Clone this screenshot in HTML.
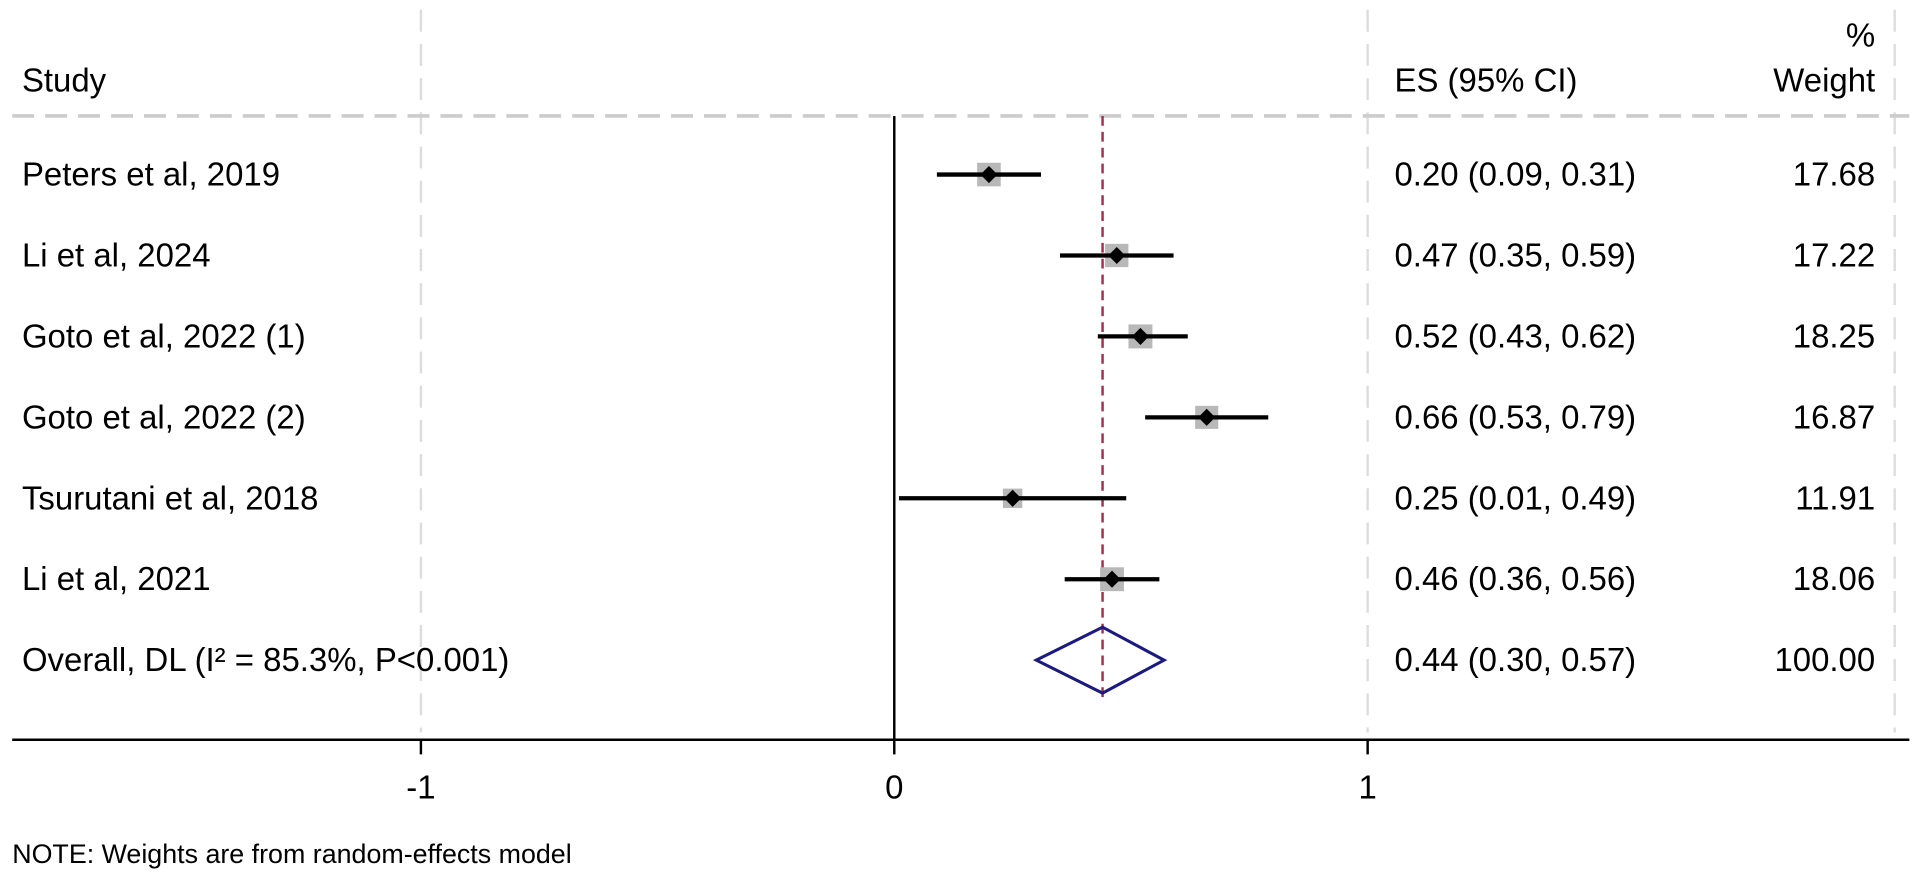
<!DOCTYPE html>
<html><head><meta charset="utf-8"><style>
body{margin:0;background:#fff}
svg{display:block;font-family:"Liberation Sans",Arial,sans-serif}
</style></head><body>
<svg id="chart" width="1913" height="885" viewBox="0 0 1568 725" preserveAspectRatio="none">
<g id="grid"></g>
<text x="18" y="75" font-size="27">Study</text>
<text x="1143" y="75" font-size="27">ES (95% CI)</text>
<text x="1537" y="38" font-size="27" text-anchor="end">%</text>
<text x="1537" y="75" font-size="27" text-anchor="end">Weight</text>
<g id="rows"></g>
<text x="10" y="707" font-size="22">NOTE: Weights are from random-effects model</text>
</svg>
<script>
const studies=["Peters et al, 2019","Li et al, 2024","Goto et al, 2022 (1)","Goto et al, 2022 (2)","Tsurutani et al, 2018","Li et al, 2021"];
const es=[0.20,0.47,0.52,0.66,0.25,0.46];
const lo=[0.09,0.35,0.43,0.53,0.01,0.36];
const hi=[0.31,0.59,0.62,0.79,0.49,0.56];
const weights=[17.68,17.22,18.25,16.87,11.91,18.06];
const overall=[0.44,0.30,0.57];
const overallLabel="Overall, DL (I² = 85.3%, P<0.001)";
const ticks=[-1,0,1];
const NS="http://www.w3.org/2000/svg";
const X=v=>733+v*388;
const rowY=i=>143+i*66.3;
const svg=document.getElementById('chart'),g=document.getElementById('grid'),r=document.getElementById('rows');
function el(t,a,p){const e=document.createElementNS(NS,t);for(const k in a)e.setAttribute(k,a[k]);p.appendChild(e);return e;}
[-1,1].forEach(v=>{const e=el('line',{x1:X(v),x2:X(v),y1:8,y2:600,stroke:'#ddd','stroke-width':2,'stroke-dasharray':'18,10'},g);

});
let e=el('line',{x1:1553,x2:1553,y1:8,y2:600,stroke:'#ddd','stroke-width':2,'stroke-dasharray':'18,10'},g);


e=el('line',{x1:10,x2:1565,y1:95,y2:95,stroke:'#ccc','stroke-width':3,'stroke-dasharray':'18,9'},g);


e=el('line',{x1:X(0),x2:X(0),y1:95,y2:606,stroke:'#000','stroke-width':2},g);


e=el('line',{x1:X(overall[0]),x2:X(overall[0]),y1:95,y2:572,stroke:'#a0304a','stroke-width':2,'stroke-dasharray':'8,5'},g);


e=el('line',{x1:10,x2:1565,y1:606,y2:606,stroke:'#000','stroke-width':2},g);


ticks.forEach(v=>{let t=el('line',{x1:X(v),x2:X(v),y1:606,y2:618,stroke:'#000','stroke-width':2},g);


let l=el('text',{x:X(v),y:654,'font-size':27,'text-anchor':'middle'},g);l.textContent=String(v);

});
const f=v=>v.toFixed(2);
studies.forEach((s,i)=>{const y=rowY(i);
let t=el('text',{x:18,y:y+9,'font-size':27},r);t.textContent=s;


const sz=Math.sqrt(weights[i])*4.6;
let b=el('rect',{x:X(es[i])-sz/2,y:y-sz/2,width:sz,height:sz,fill:'#b8b8b8'},r);


let c=el('line',{x1:X(lo[i]),x2:X(hi[i]),y1:y,y2:y,stroke:'#000','stroke-width':3.5},r);


const px=X(es[i]);
let d=el('polygon',{points:`${px-7},${y} ${px},${y-7} ${px+7},${y} ${px},${y+7}`,fill:'#000'},r);


let q=el('text',{x:1143,y:y+9,'font-size':27},r);q.textContent=`${f(es[i])} (${f(lo[i])}, ${f(hi[i])})`;


let w=el('text',{x:1537,y:y+9,'font-size':27,'text-anchor':'end'},r);w.textContent=f(weights[i]);

});
const oy=rowY(6);
let t=el('text',{x:18,y:oy+9,'font-size':27},r);t.textContent=overallLabel;


let dm=el('polygon',{points:`${X(overall[1])},${oy} ${X(overall[0])},${oy-27} ${X(overall[2])},${oy} ${X(overall[0])},${oy+27}`,fill:'none',stroke:'#1a1a80','stroke-width':2.5},r);


let q=el('text',{x:1143,y:oy+9,'font-size':27},r);q.textContent=`${f(overall[0])} (${f(overall[1])}, ${f(overall[2])})`;


let w=el('text',{x:1537,y:oy+9,'font-size':27,'text-anchor':'end'},r);w.textContent="100.00";


</script>
</body></html>
